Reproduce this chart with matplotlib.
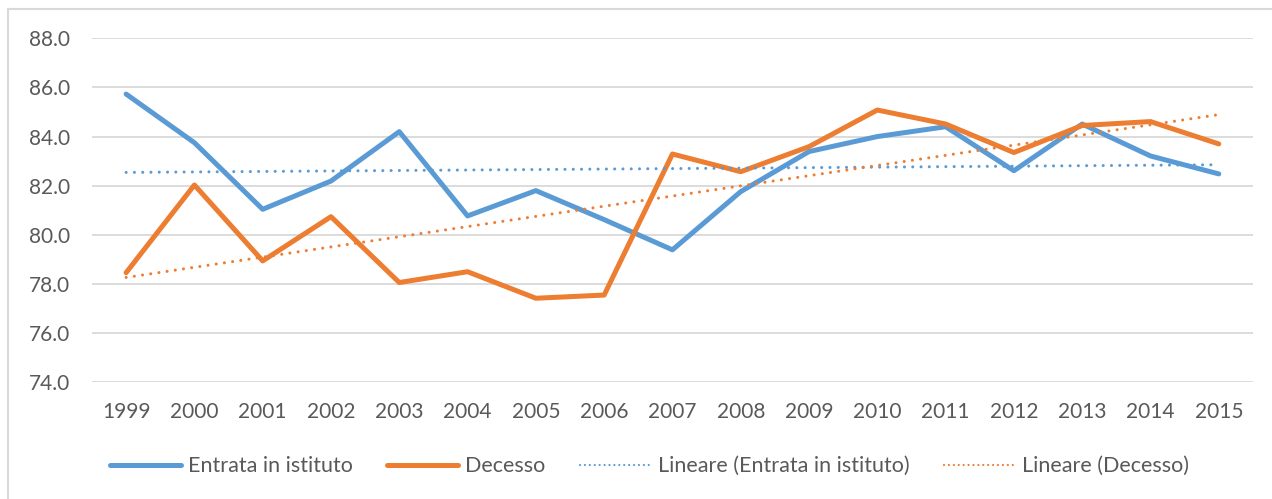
import numpy as np
import matplotlib.pyplot as plt
from matplotlib.lines import Line2D

plt.rcParams['font.family'] = ['Lato', 'DejaVu Sans']

years = [str(y) for y in range(1999, 2016)]
entrata = [85.73, 83.75, 81.04, 82.19, 84.20, 80.77, 81.80, 80.62, 79.39,
           81.76, 83.39, 84.00, 84.40, 82.61, 84.51, 83.21, 82.48]
decesso = [78.46, 82.03, 78.94, 80.74, 78.06, 78.50, 77.42, 77.55, 83.29,
           82.57, 83.59, 85.08, 84.51, 83.35, 84.45, 84.61, 83.70]

BLUE = '#5B9BD5'
ORANGE = '#ED7D31'
GRID = '#D9D9D9'
TEXT = '#595959'

fig = plt.figure(figsize=(12.72, 4.99), dpi=100)
ax = fig.add_axes([0.0723, 0.2339, 0.9127, 0.6894])

x = np.arange(len(years))

# linear trend lines like Excel's "Lineare (...)"
fit_e = np.polyfit(x, entrata, 1)
fit_d = np.polyfit(x, decesso, 1)

ax.plot(x, entrata, color=BLUE, lw=3.6, solid_joinstyle='round', solid_capstyle='round', zorder=3)
ax.plot(x, decesso, color=ORANGE, lw=3.6, solid_joinstyle='round', solid_capstyle='round', zorder=3)
dot = (0, (0.01, 2.7))
ax.plot(x, np.polyval(fit_e, x), color=BLUE, lw=2.2, ls=dot, dash_capstyle='round', zorder=4)
ax.plot(x, np.polyval(fit_d, x), color=ORANGE, lw=2.2, ls=dot, dash_capstyle='round', zorder=4)

ax.set_xlim(-0.5, len(years) - 0.5)
ax.set_ylim(74, 88)
ax.set_yticks(np.arange(74, 88.1, 2))
ax.set_yticklabels([f'{v:.1f}' for v in np.arange(74, 88.1, 2)])
ax.set_xticks(x)
ax.set_xticklabels(years)
ax.tick_params(axis='both', length=0, labelsize=15, labelcolor=TEXT)
ax.tick_params(axis='x', pad=14)
ax.tick_params(axis='y', pad=16)
ax.grid(axis='y', color=GRID, lw=1.3)
ax.set_axisbelow(True)
for s in ax.spines.values():
    s.set_visible(False)

handles = [
    Line2D([], [], color=BLUE, lw=3.6, solid_capstyle='round'),
    Line2D([], [], color=ORANGE, lw=3.6, solid_capstyle='round'),
    Line2D([], [], color=BLUE, lw=1.6, ls=(0, (0.01, 2.2)), dash_capstyle='round'),
    Line2D([], [], color=ORANGE, lw=1.6, ls=(0, (0.01, 2.2)), dash_capstyle='round'),
]
labels = ['Entrata in istituto', 'Decesso', 'Lineare (Entrata in istituto)', 'Lineare (Decesso)']
leg = fig.legend(handles, labels, loc='center', bbox_to_anchor=(0.5106, 0.066), ncol=4,
                 frameon=False, fontsize=15.5, handlelength=3.3, handletextpad=0.33,
                 columnspacing=1.6, labelcolor=TEXT)

# chart area border (left and top edges visible)
fig.add_artist(Line2D([8 / 1272, 8 / 1272], [0, 1 - 9 / 499], color=GRID, lw=1.5))
fig.add_artist(Line2D([8 / 1272, 1], [1 - 9 / 499, 1 - 9 / 499], color=GRID, lw=1.5))

fig.savefig('out.png', dpi=100, facecolor='white')
